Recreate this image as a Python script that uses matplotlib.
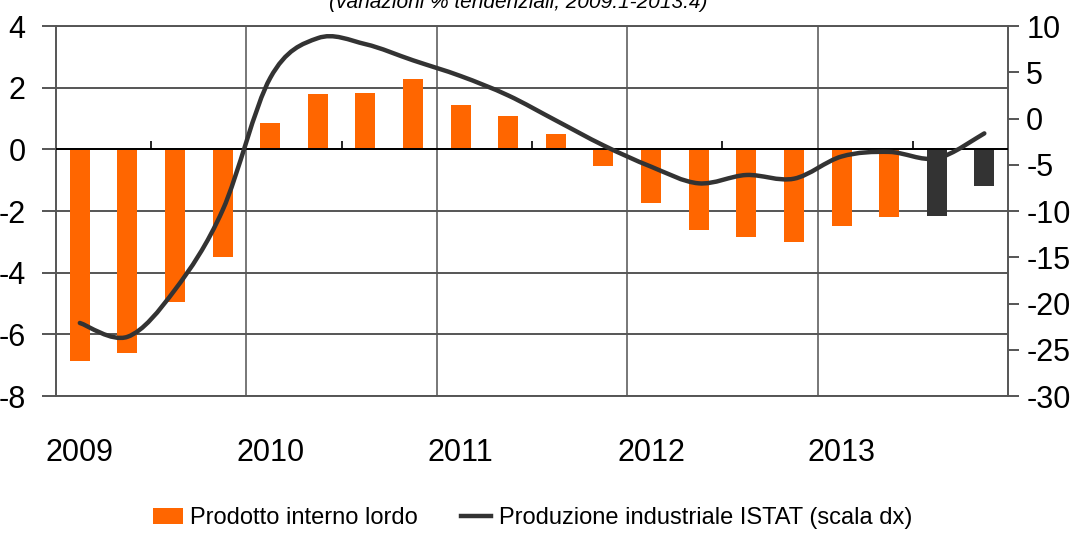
import numpy as np
import matplotlib.pyplot as plt
from matplotlib.path import Path
from matplotlib.patches import PathPatch, Patch
from matplotlib.lines import Line2D

plt.rcParams['font.family'] = ['Liberation Sans Narrow', 'Liberation Sans', 'DejaVu Sans']
plt.rcParams['axes.unicode_minus'] = False

years = ['2009', '2010', '2011', '2012', '2013']
# PIL, variazioni % tendenziali, trimestrali 2009:1 - 2013:4
pil = [-6.85, -6.6, -4.95, -3.5,
       0.85, 1.8, 1.82, 2.27,
       1.43, 1.07, 0.49, -0.55,
       -1.74, -2.62, -2.84, -3.0,
       -2.49, -2.2, -2.16, -1.19]
# ultimi due trimestri = previsioni (barre scure)
is_forecast = [False] * 18 + [True, True]
# produzione industriale (scala dx)
prod_ind = [-22.1, -23.6, -18.5, -9.9,
            4.4, 8.7, 8.05, 6.3,
            4.6, 2.5, -0.2, -2.9,
            -5.2, -7.0, -6.1, -6.5,
            -4.1, -3.6, -4.3, -1.6]

orange = '#FF6600'
dark = '#333333'
grid_c = '#555555'

fig = plt.figure(figsize=(10.71, 5.33), dpi=100)
ax = fig.add_axes([0.0523, 0.257, 0.8890, 0.694])
ax2 = ax.twinx()

x = np.arange(len(pil))
colors = [dark if f else orange for f in is_forecast]
ax.bar(x, pil, width=0.42, color=colors, zorder=2)

ax.set_xlim(-0.5, len(pil) - 0.5)
ax.set_ylim(-8, 4)
ax.set_yticks(np.arange(-8, 5, 2))
ax.yaxis.grid(True, color=grid_c, linewidth=1.4, zorder=0)
ax.axhline(0, color='black', linewidth=1.4, zorder=3)
for b in np.arange(3.5, len(pil) - 1, 4):
    ax.axvline(b, color='#777777', linewidth=1.4, zorder=1)
# piccoli tick di metà anno sulla linea dello zero
for h in np.arange(1.5, len(pil), 4):
    ax.vlines(h, 0, 0.28, color='black', linewidth=1.2, zorder=3)

ax.set_xticks(np.arange(0, len(pil), 4))
ax.set_xticklabels(years)
ax.tick_params(axis='x', length=0, pad=30, labelsize=22)
ax.tick_params(axis='y', length=10, width=1.4, color=grid_c, pad=12, labelsize=22)
for s in ['top', 'bottom', 'left', 'right']:
    ax.spines[s].set_color(grid_c)
    ax.spines[s].set_linewidth(1.4)

# linea smussata (Bezier come Excel)
pts = np.column_stack([x, prod_ind]).astype(float)
verts = [pts[0]]
codes = [Path.MOVETO]
n = len(pts)
for i in range(n - 1):
    p0 = pts[max(i - 1, 0)]
    p1 = pts[i]
    p2 = pts[i + 1]
    p3 = pts[min(i + 2, n - 1)]
    c1 = p1 + (p2 - p0) / 6.0
    c2 = p2 - (p3 - p1) / 6.0
    verts += [c1, c2, p2]
    codes += [Path.CURVE4] * 3
ax2.add_patch(PathPatch(Path(verts, codes), facecolor='none', edgecolor=dark,
                        linewidth=3.2, capstyle='round', zorder=4))
ax2.set_ylim(-30, 10)
ax2.set_yticks(np.arange(-30, 11, 5))
ax2.tick_params(axis='y', length=8, width=1.4, color=grid_c, pad=5, labelsize=22)
for s in ['top', 'bottom', 'left', 'right']:
    ax2.spines[s].set_visible(False)

fig.text(0.484, 0.995, '(variazioni % tendenziali; 2009:1-2013:4)', ha='center', va='center',
         fontsize=15, style='italic')

handles = [Patch(facecolor=orange, edgecolor='none'),
           Line2D([0], [0], color=dark, linewidth=3.2)]
fig.legend(handles, ['Prodotto interno lordo', 'Produzione industriale ISTAT (scala dx)'],
           loc='center', bbox_to_anchor=(0.497, 0.028), ncol=2, frameon=False,
           fontsize=17, handlelength=1.3, handletextpad=0.3, columnspacing=1.8)

fig.savefig('out.png', dpi=100)
